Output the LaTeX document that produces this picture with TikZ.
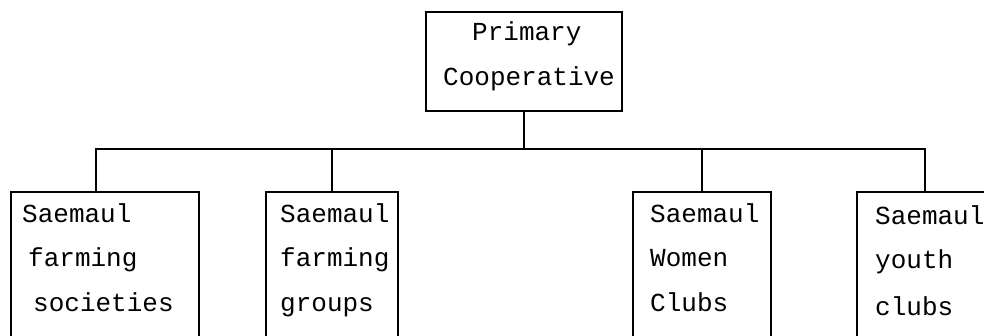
\documentclass[tikz,border=0pt]{standalone}
\usepackage{fontspec}
\setmonofont{Liberation Mono}
\begin{document}
\begin{tikzpicture}[x=1pt,y=-1pt,
  rule/.style={line width=2pt,line cap=rect},
  orgbox/.style={draw,rule,rectangle,anchor=north west,inner sep=0pt},
  word/.style={anchor=base west,inner sep=0pt,font=\ttfamily\fontsize{26}{44}\selectfont}]
\useasboundingbox (0,0) rectangle (984,336);
\fill[white] (0,0) rectangle (984,336);
\clip (0,0) rectangle (984,336);

% head of the chart
\node[orgbox,minimum width=196pt,minimum height=99pt] (top) at (425,11) {};
\node[word] (t1) at (472,41) {Primary};
\node[word] (t2) at (443,86) {Cooperative};

% member groups (boxes run past the lower edge)
\node[orgbox,minimum width=188pt,minimum height=170pt] (b1) at (10,191) {};
\node[orgbox,minimum width=132pt,minimum height=170pt] (b2) at (265,191) {};
\node[orgbox,minimum width=138pt,minimum height=170pt] (b3) at (632,191) {};
\node[orgbox,minimum width=136pt,minimum height=170pt] (b4) at (856,191) {};

\node[word] (a1) at (22,223) {Saemaul};
\node[word] (a2) at (28,267) {farming};
\node[word] (a3) at (33,312) {societies};

\node[word] (c1) at (280,223) {Saemaul};
\node[word] (c2) at (280,267) {farming};
\node[word] (c3) at (280,312) {groups};

\node[word] (d1) at (650,223) {Saemaul};
\node[word] (d2) at (650,267) {Women};
\node[word] (d3) at (650,312) {Clubs};

\node[word] (e1) at (875,225) {Saemaul};
\node[word] (e2) at (875,269) {youth};
\node[word] (e3) at (875,315) {clubs};

% connectors
\coordinate (bus) at (523,149);
\draw[rule] (top.south) -- (top.south |- bus);
\draw[rule] ([xshift=-9pt]b1.north) |- (bus) -| (b4.north);
\draw[rule] (b2.north) -- (b2.north |- bus);
\draw[rule] (b3.north) -- (b3.north |- bus);
\end{tikzpicture}
\end{document}
